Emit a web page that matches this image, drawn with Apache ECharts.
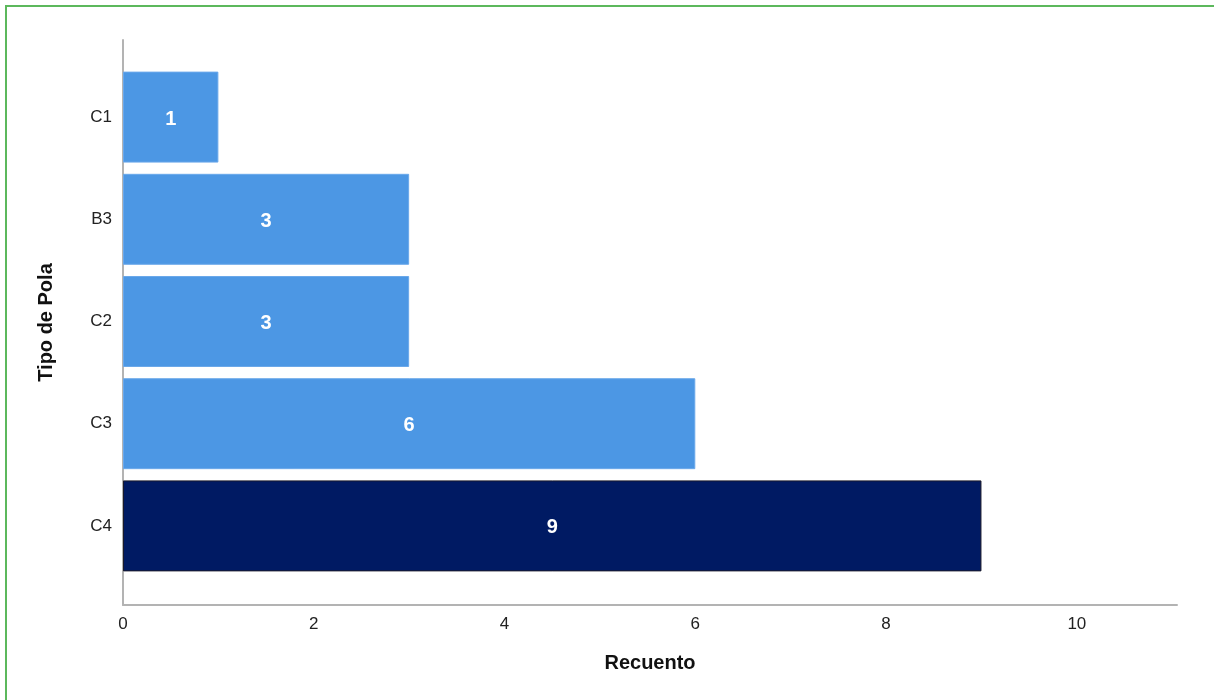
<!DOCTYPE html>
<html>
<head>
<meta charset="utf-8">
<script src="https://cdn.jsdelivr.net/npm/echarts@6/dist/echarts.min.js"></script>
<style>
html,body{margin:0;padding:0;background:#fff;}
#frame{position:absolute;left:5px;top:5px;width:1300px;height:800px;border-top:2px solid #5cb85c;border-left:2px solid #5cb85c;box-sizing:border-box;}
#chart{position:absolute;left:0;top:0;width:1214px;height:700px;}
</style>
</head>
<body>
<div id="frame"></div>
<div id="chart"></div>
<script>
const categories = ['C1', 'B3', 'C2', 'C3', 'C4'];
const counts = [1, 3, 3, 6, 9];
const highlight = 'C4';
const xTicksMax = 11.05;

const chart = echarts.init(document.getElementById('chart'));
const font = '"Liberation Sans", Arial, Helvetica, sans-serif';
const axisColor = '#b3b3b3';

chart.setOption({
  animation: false,
  textStyle: { fontFamily: font },
  grid: [
    { left: 123, right: 37, top: 66, bottom: 123 },
    { left: 123, right: 37, top: 40, bottom: 95 }
  ],
  xAxis: [
    { gridIndex: 0, type: 'value', min: 0, max: xTicksMax, interval: 2, show: false, splitLine: { show: false } },
    {
      gridIndex: 1, type: 'value', min: 0, max: xTicksMax, interval: 2,
      axisLine: { show: true, lineStyle: { color: axisColor, width: 2 } },
      axisTick: { show: false },
      splitLine: { show: false },
      axisLabel: { color: '#222', fontSize: 17, margin: 11, showMaxLabel: false, fontFamily: font },
      name: 'Recuento', nameLocation: 'middle', nameGap: 48,
      nameTextStyle: { fontWeight: 'bold', fontSize: 20, color: '#111', fontFamily: font }
    }
  ],
  yAxis: [
    {
      gridIndex: 0, type: 'category', data: categories, inverse: true,
      axisLine: { show: false }, axisTick: { show: false },
      axisLabel: { color: '#222', fontSize: 17, margin: 11, fontFamily: font }
    },
    {
      gridIndex: 1, type: 'value', min: 0, max: 1,
      axisLine: { show: true, lineStyle: { color: axisColor, width: 2 } },
      axisTick: { show: false }, axisLabel: { show: false }, splitLine: { show: false },
      name: 'Tipo de Pola', nameLocation: 'middle', nameGap: 67, nameRotate: 90,
      nameTextStyle: { fontWeight: 'bold', fontSize: 20, color: '#111', fontFamily: font }
    }
  ],
  series: [{
    type: 'bar',
    xAxisIndex: 0, yAxisIndex: 0,
    barCategoryGap: '11%',
    data: counts.map((v, i) => ({
      value: v,
      itemStyle: categories[i] === highlight
        ? { color: '#001a63', borderColor: '#1a1a2a', borderWidth: 1 }
        : { color: '#4c97e4', borderColor: '#6aa8ea', borderWidth: 1 }
    })),
    label: {
      show: true, position: 'inside', offset: [0, 2], color: '#fff', fontWeight: 'bold', fontSize: 20, fontFamily: font
    }
  }]
});
</script>
</body>
</html>
